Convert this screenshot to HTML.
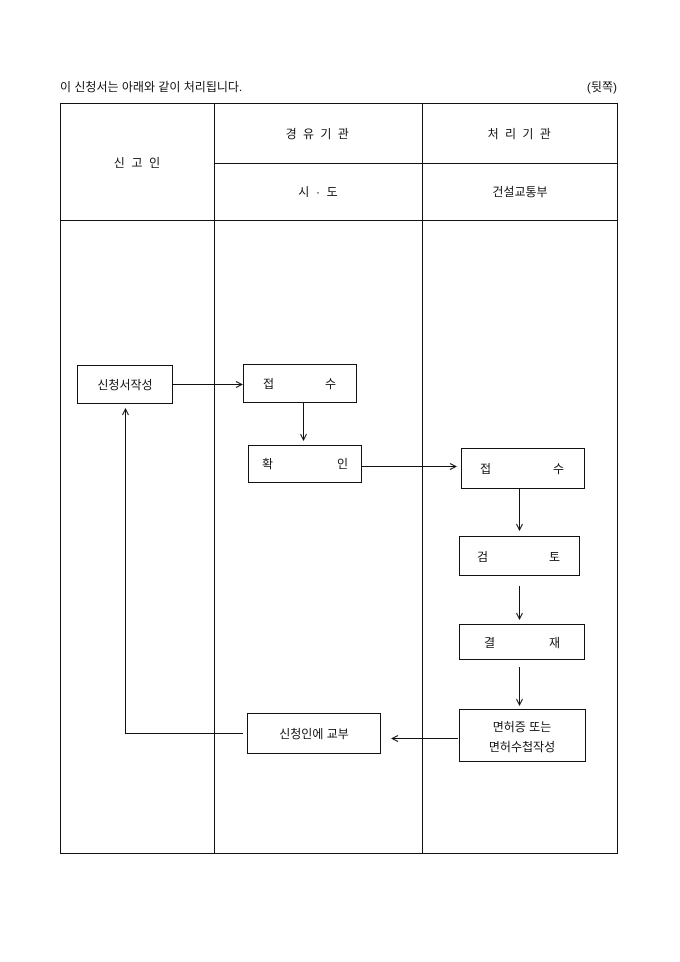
<!DOCTYPE html>
<html><head><meta charset="utf-8"><style>
html,body{margin:0;padding:0;background:#fff;}
svg{display:block;}
text{font-family:"Liberation Sans","Noto Sans CJK KR",sans-serif;font-size:12px;fill:#111;}
</style></head><body>
<svg width="680" height="962" viewBox="0 0 680 962" xmlns="http://www.w3.org/2000/svg">
<defs><marker id="a" markerWidth="8" markerHeight="8" refX="7" refY="4" orient="auto" markerUnits="userSpaceOnUse"><path d="M1,1 L7,4 L1,7" fill="none" stroke="#111" stroke-width="1"/></marker></defs>
<text x="60" y="91">이 신청서는 아래와 같이 처리됩니다.</text>
<text x="617" y="91" text-anchor="end">(뒷쪽)</text>
<g stroke="#111" stroke-width="1" fill="none">
<rect x="60.5" y="103.5" width="557" height="750"/>
<line x1="214.5" y1="103" x2="214.5" y2="854"/>
<line x1="422.5" y1="103" x2="422.5" y2="854"/>
<line x1="214" y1="163.5" x2="618" y2="163.5"/>
<line x1="60" y1="220.5" x2="618" y2="220.5"/>
<rect x="77.5" y="365.5" width="95" height="38"/>
<rect x="243.5" y="364.5" width="113" height="38"/>
<rect x="248.5" y="445.5" width="113" height="37"/>
<rect x="461.5" y="448.5" width="123" height="40"/>
<rect x="459.5" y="536.5" width="120" height="39"/>
<rect x="459.5" y="624.5" width="125" height="35"/>
<rect x="459.5" y="709.5" width="126" height="52"/>
<rect x="247.5" y="713.5" width="133" height="40"/>
<line x1="173" y1="384.5" x2="242" y2="384.5" marker-end="url(#a)"/>
<line x1="303.5" y1="403" x2="303.5" y2="440" marker-end="url(#a)"/>
<line x1="362" y1="466.5" x2="456" y2="466.5" marker-end="url(#a)"/>
<line x1="519.5" y1="489" x2="519.5" y2="530" marker-end="url(#a)"/>
<line x1="519.5" y1="586" x2="519.5" y2="619" marker-end="url(#a)"/>
<line x1="519.5" y1="667" x2="519.5" y2="705" marker-end="url(#a)"/>
<line x1="458" y1="738.5" x2="392" y2="738.5" marker-end="url(#a)"/>
<polyline points="243,733.5 125.5,733.5 125.5,409" marker-end="url(#a)"/>
</g>
<text x="137" y="167" text-anchor="middle" xml:space="preserve">신  고  인</text>
<text x="318" y="138" text-anchor="middle" letter-spacing="1.5">경 유 기 관</text>
<text x="520" y="138" text-anchor="middle" letter-spacing="1.5">처 리 기 관</text>
<text x="318" y="196" text-anchor="middle" xml:space="preserve">시  ·  도</text>
<text x="520" y="196" text-anchor="middle">건설교통부</text>
<text x="125" y="389" text-anchor="middle">신청서작성</text>
<text x="263" y="388">접</text><text x="325" y="388">수</text>
<text x="262" y="468">확</text><text x="337" y="468">인</text>
<text x="480" y="473">접</text><text x="553" y="473">수</text>
<text x="477" y="561">검</text><text x="549" y="561">토</text>
<text x="484" y="647">결</text><text x="549" y="647">재</text>
<text x="522" y="731" text-anchor="middle">면허증 또는</text>
<text x="522" y="751" text-anchor="middle">면허수첩작성</text>
<text x="314" y="738" text-anchor="middle">신청인에 교부</text>
</svg>
</body></html>
